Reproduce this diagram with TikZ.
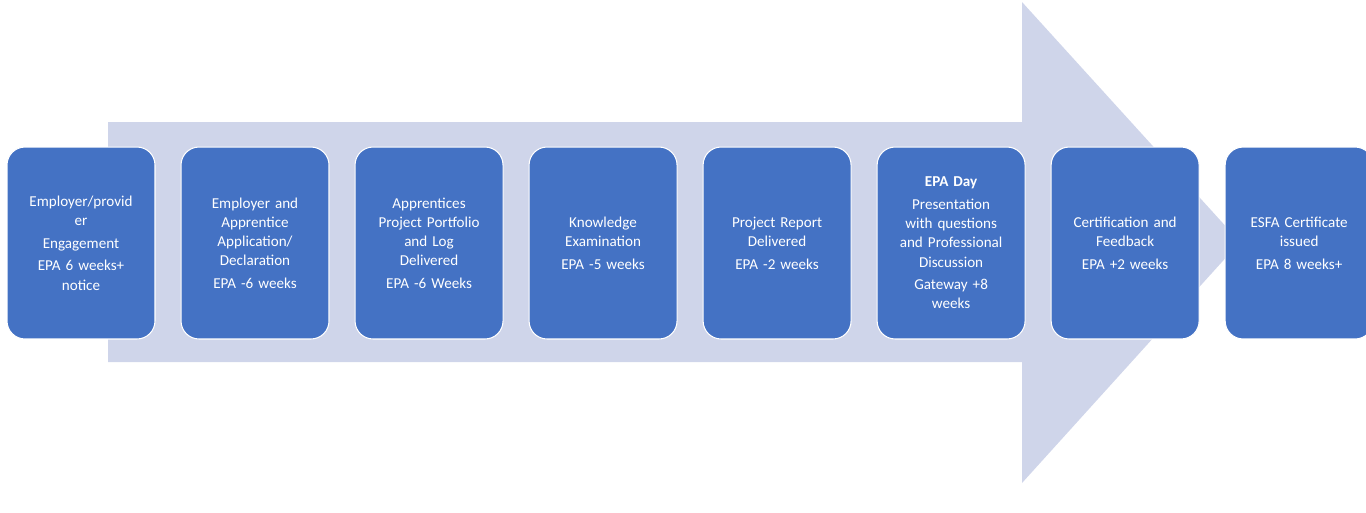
\documentclass[tikz,border=0pt]{standalone}
\usepackage{fontspec}
\setmainfont{Carlito}
\usetikzlibrary{positioning}
\definecolor{stepblue}{HTML}{4472C4}
\definecolor{arrowgrey}{HTML}{CFD5EA}
\tikzset{stepbox/.style={draw=white, line width=0.6pt, fill=stepblue, rounded corners=0.36cm,
  minimum width=2.96cm, minimum height=3.84cm, text width=2.8cm, align=center,
  text=white, font=\fontsize{8.6}{10.9}\selectfont, inner sep=1pt}}
\begin{document}
\begin{tikzpicture}[x=0.02cm,y=-0.02cm]
\useasboundingbox (0,0) rectangle (1366,512);
\fill[arrowgrey] (108,122) -- (1022,122) -- (1022,2) -- (1240,242) -- (1022,483) -- (1022,362) -- (108,362) -- cycle;

\node[stepbox] (s1) at (81,243) {Employer/provid\\er\\[2pt]Engagement\\[2pt]EPA 6 weeks+\\notice};
\node[stepbox, right=0.5cm of s1] (s2) {Employer and\\Apprentice\\Application/\\Declaration\\[2pt]EPA -6 weeks};
\node[stepbox, right=0.5cm of s2] (s3) {Apprentices\\Project Portfolio\\and Log\\Delivered\\[2pt]EPA -6 Weeks};
\node[stepbox, right=0.5cm of s3] (s4) {Knowledge\\Examination\\[2pt]EPA -5 weeks};
\node[stepbox, right=0.5cm of s4] (s5) {Project Report\\Delivered\\[2pt]EPA -2 weeks};
\node[stepbox, right=0.5cm of s5] (s6) {\textbf{EPA Day}\\[2pt]Presentation\\with questions\\and Professional\\Discussion\\[2pt]Gateway +8\\weeks};
\node[stepbox, right=0.5cm of s6] (s7) {Certification and\\Feedback\\[2pt]EPA +2 weeks};
\node[stepbox, right=0.5cm of s7] (s8) {ESFA Certificate\\issued\\[2pt]EPA 8 weeks+};
\end{tikzpicture}
\end{document}
